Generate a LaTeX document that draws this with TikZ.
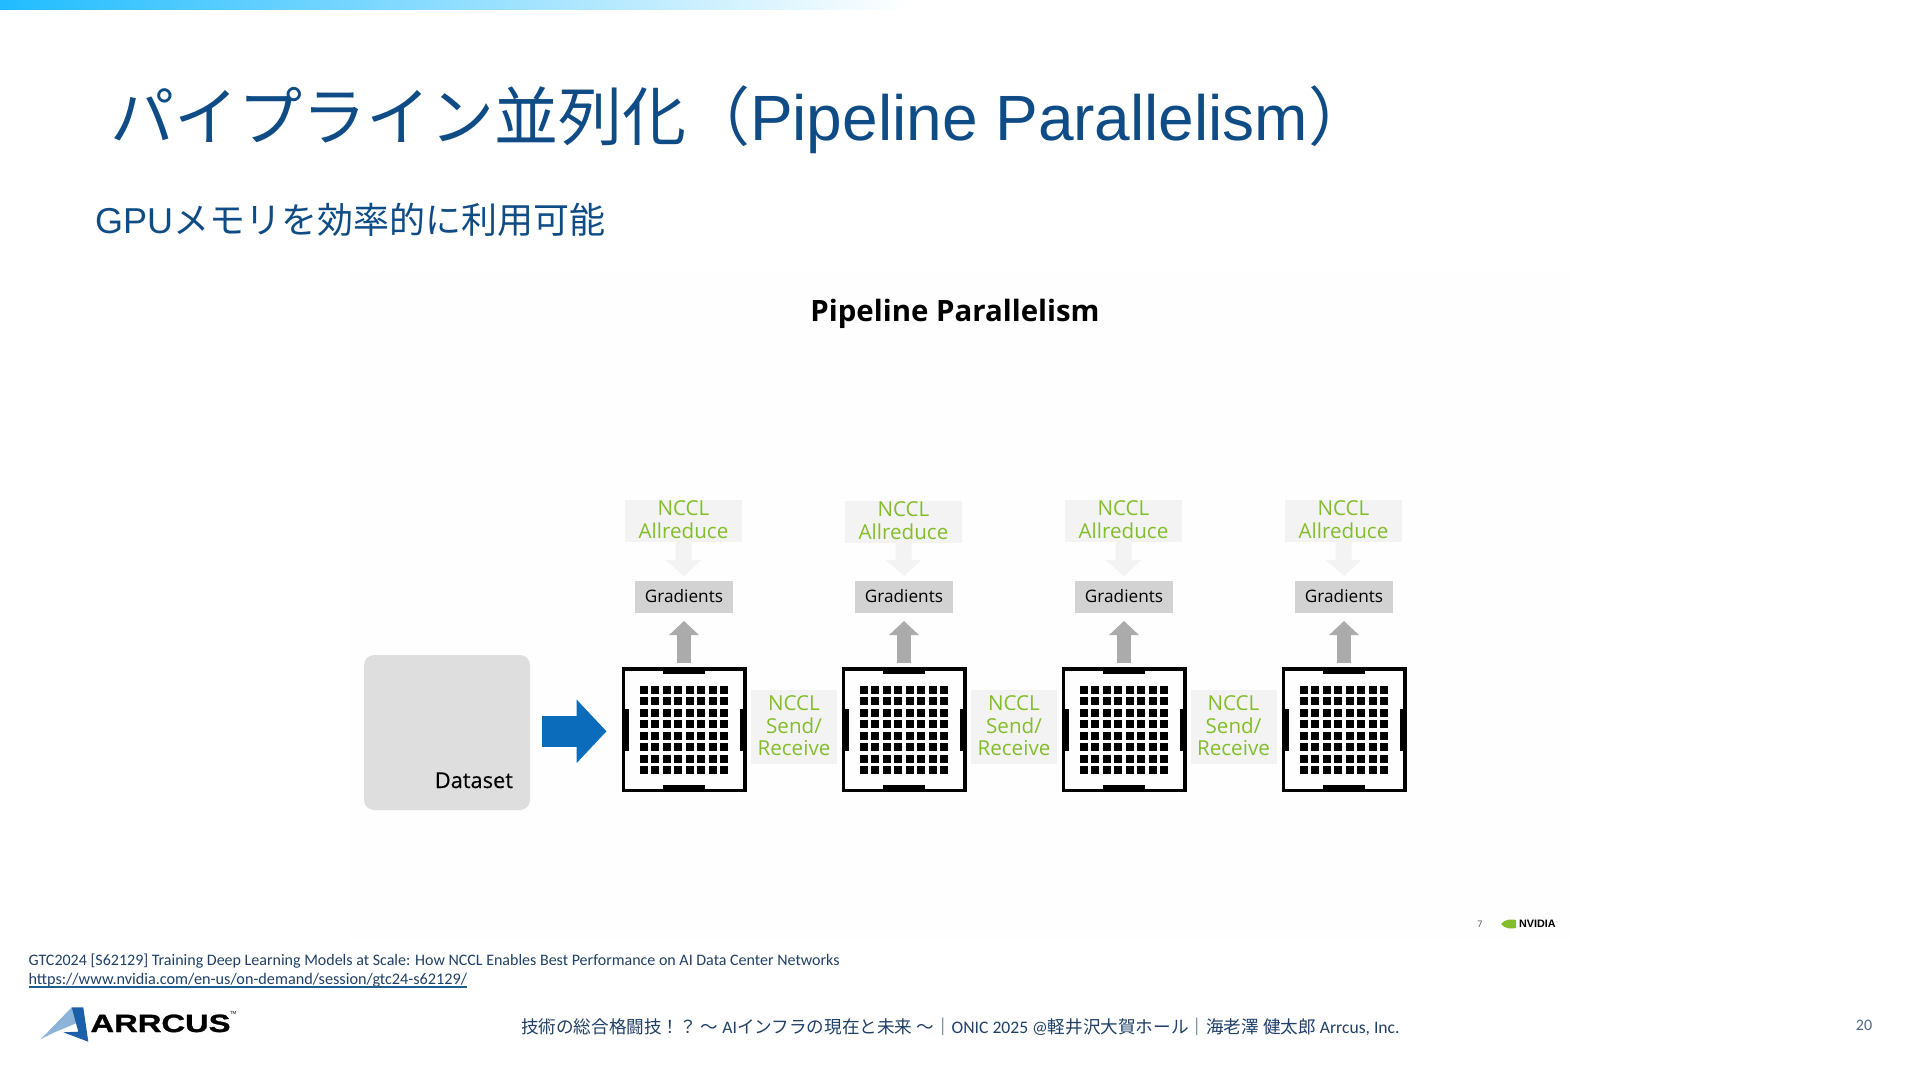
\documentclass[tikz,border=0pt]{standalone}
\usepackage{fontspec}
\usepackage{tikz}
\usetikzlibrary{arrows.meta, positioning, calc, backgrounds}
\setmainfont{Liberation Sans}
\newfontfamily\cjkfont{Noto Sans CJK JP}
\newfontfamily\footfont{Carlito}
\newfontfamily\slidefont{Open Sans}
\newfontfamily\mediumfont[FakeBold=0.4]{Open Sans}
\newfontfamily\logofont[FakeStretch=1.31, FakeBold=1.2]{Liberation Sans Bold}
\newcommand\lift{\rule[-1pt]{0pt}{1pt}}
\definecolor{titleblue}{HTML}{0F4C85}
\definecolor{footblue}{HTML}{1F3F66}
\definecolor{linkblue}{HTML}{1F5F8F}
\definecolor{nvgreen}{HTML}{84BD2C}
\definecolor{flowblue}{HTML}{0A6CBB}
\definecolor{datagray}{HTML}{DEDEDE}
\definecolor{gradgray}{HTML}{D2D2D2}
\definecolor{arrowgray}{HTML}{ABABAB}
\definecolor{faint}{HTML}{F3F3F3}
\definecolor{bandstart}{HTML}{20BCFF}
\definecolor{bandmid}{HTML}{A9D4FC}
\definecolor{logolight}{HTML}{8CB4D8}
\definecolor{logodark}{HTML}{1B5FA8}
\tikzset{
  plain/.style={inner sep=0pt, outer sep=0pt},
  nvbox/.style={plain, fill=faint, text=nvgreen, align=center},
  allbox/.style={nvbox, minimum width=58.5pt, minimum height=21pt, font=\slidefont\fontsize{10.3}{11.5}\selectfont},
  sendbox/.style={nvbox, minimum width=43pt, minimum height=37pt, font=\slidefont\fontsize{10.3}{11.25}\selectfont},
  gradbox/.style={plain, fill=gradgray, minimum width=49pt, minimum height=16pt, font=\slidefont\fontsize{8.6}{10}\selectfont},
  chipbox/.style={draw=black, line width=1.75pt, inner sep=0pt, minimum size=60.75pt},
  uparrow/.style={draw=arrowgray, line width=7pt, shorten <=2pt, shorten >=4pt, -{Triangle[width=14.5pt, length=7pt]}},
  downarrow/.style={draw=faint, line width=8pt, shorten >=2.5pt, -{Triangle[width=17.5pt, length=8pt]}},
  flowarrow/.style={draw=flowblue, line width=15.5pt, shorten <=6pt, shorten >=7.5pt, -{Triangle[width=31pt, length=15pt]}},
  footline/.style={plain, anchor=base west, text=footblue, font=\footfont\fontsize{8}{9}\selectfont},
}
\begin{document}
\begin{tikzpicture}[x=0.5pt, y=-0.5pt]
    \useasboundingbox (0,0) rectangle (1920,1080);
    % top band and pasted slide
    \shade[left color=bandstart, middle color=bandmid, right color=white] (0,0) rectangle (910,9.5);
    \fill[white!99.5!black] (350,270) rectangle (1570,940);

    \node[plain, anchor=base west, text=titleblue, font=\fontsize{32}{36}\selectfont] (maintitle) at (110,141)
      {{\cjkfont パイプライン並列化（}Pipeline Parallelism{\cjkfont ）}};
    \node[plain, anchor=base west, text=titleblue, font=\fontsize{18}{22}\selectfont] (subtitle) at (95,234)
      {GPU{\cjkfont メモリを効率的に利用可能}};
    \node[plain, anchor=base, font=\slidefont\bfseries\fontsize{14.7}{18}\selectfont] (heading) at (955,321.5) {Pipeline Parallelism};

    \node[plain, fill=datagray, rounded corners=5pt, minimum width=83pt, minimum height=77.5pt] (dataset) at (447,732.5) {};
    \node[plain, anchor=base east, font=\mediumfont\fontsize{10.9}{12}\selectfont] (datalabel) at (513,788) {Dataset};

    % one column per chip
    \foreach \i/\cx/\dy in {1/684/0,2/904/1,3/1124/0,4/1344/0}{
      \node[chipbox] (chip\i) at (\cx,729.5) {};
      \begin{scope}[shift={(chip\i.center)}]
        \fill (-21,-62.5) rectangle (21,-55.5);
        \fill (-21,62.5) rectangle (21,55.5);
        \fill (-62.5,-21) rectangle (-55.5,21.5);
        \fill (62.5,-21) rectangle (55.5,21.5);
        \foreach \x in {0,...,7}{
          \foreach \y in {0,...,7}{
            \fill (-44+11.43*\x,-43.5+11.43*\y) rectangle ++(8,8);
          }}
      \end{scope}
      \node[gradbox] (grad\i) at (\cx,597) {Gradients\lift};
      \node[allbox] (all\i) at (\cx-0.5,521+\dy) {NCCL\\Allreduce\lift};
      \draw[uparrow] (chip\i.north) -- (grad\i.south);
      \draw[downarrow] (all\i.south) -- (grad\i.north);
    }
    \foreach \i/\sx in {1/794,2/1014,3/1233.5}{
      \node[sendbox] (send\i) at (\sx,727) {NCCL\\Send/\\Receive\lift};
    }
    \draw[flowarrow] ([yshift=0.6pt]dataset.east) -- ([yshift=0.6pt]dataset.east -| chip1.west);

    % small mark of the pasted slide
    \node[plain, text=black!70, font=\slidefont\fontsize{4.5}{5}\selectfont] (pageseven) at (1480,924) {7};
    \fill[nvgreen] (1501,924) .. controls (1505,919) and (1511,919) .. (1516,920) -- (1516,928) .. controls (1511,929) and (1505,929) .. (1501,924) -- cycle;
    \node[plain, anchor=west, font=\bfseries\fontsize{5.4}{6}\selectfont] (nvmark) at (1519,924) {NVIDIA};

    % footer
    \node[footline] (talk) at (28.5,965) {GTC2024 [S62129] Training Deep Learning Models at Scale: How NCCL Enables Best Performance on AI Data Center Networks};
    \node[footline, font=\footfont\fontsize{8.1}{9}\selectfont] (linkurl) at (28.5,984) {https://www.nvidia.com/en-us/on-demand/session/gtc24-s62129/};
    \draw[linkblue, line width=0.6pt] ($(linkurl.base west)+(0,3)$) -- ($(linkurl.base east)+(0,3)$);
    \node[footline, font=\footfont\fontsize{8.8}{10}\selectfont] (event) at (521,1033)
      {{\cjkfont 技術の総合格闘技！？ ～ }AI{\cjkfont インフラの現在と未来 ～｜}ONIC 2025 @{\cjkfont 軽井沢大賀ホール｜海老澤 健太郎} Arrcus, Inc.};
    \node[plain, text=footblue!80, font=\footfont\fontsize{8}{10}\selectfont] (pagenum) at (1864,1025) {20};

    % logo
    \fill[logolight] (40.7,1039.3) -- (71.7,1007.3) -- (76.7,1023) -- (53,1033) -- cycle;
    \fill[logodark] (71.7,1007.3) -- (83.3,1007.3) -- (88.3,1041.7) -- (63.3,1032.3) -- (78.3,1031.7) -- cycle;
    \node[plain, anchor=base west, font=\logofont\fontsize{12.5}{14}\selectfont] (arrcus) at (90.5,1032) {ARRCUS};
    \node[plain, anchor=west, font=\fontsize{2.2}{3}\selectfont] (trademark) at (230,1013) {TM};
\end{tikzpicture}
\end{document}
